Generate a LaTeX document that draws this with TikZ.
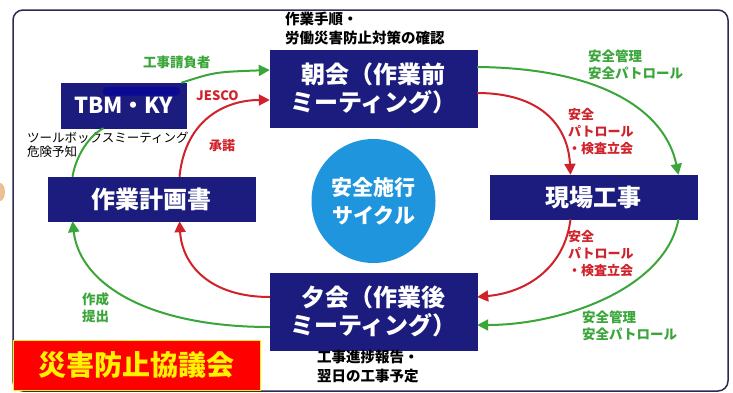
\documentclass[tikz,border=0pt]{standalone}
\usepackage{fontspec}
\setmainfont{Noto Sans CJK JP}
\usetikzlibrary{arrows.meta}
\definecolor{navy}{HTML}{1B1C7E}
\definecolor{navybar}{HTML}{0B0A95}
\definecolor{cblue}{HTML}{1E95DC}
\definecolor{agreen}{HTML}{3AA63A}
\definecolor{ared}{HTML}{D0222A}
\definecolor{frame}{HTML}{2A2A55}
\begin{document}
\begin{tikzpicture}[x=1pt,y=-1pt,
  box/.style={fill=navy,draw=navy,text=white,font=\fontsize{24}{28}\selectfont\bfseries,align=center,inner sep=0pt},
  garr/.style={draw=agreen,line width=2pt,-{Triangle[length=11pt,width=11pt]}},
  rarr/.style={draw=ared,line width=2pt,-{Triangle[length=11pt,width=11pt]}},
  glab/.style={text=agreen,font=\fontsize{13.5}{17}\selectfont\bfseries,align=left,inner sep=0pt,anchor=north west},
  rlab/.style={text=ared,font=\fontsize{13}{17}\selectfont\bfseries,align=left,inner sep=0pt,anchor=north west},
  klab/.style={text=black,font=\fontsize{14.5}{19}\selectfont\bfseries,align=left,inner sep=0pt,anchor=north west}]
\useasboundingbox (0,0) rectangle (733,392);
\fill[white] (0,0) rectangle (733,392);
\fill[brown!60!orange!70,opacity=0.7] (0,192) ellipse (5 and 9);
\draw[frame,line width=1.5pt,rounded corners=10pt] (13,10) rectangle (728,391);
% nodes
\node[box,minimum width=207,minimum height=77] (asa) at (373.5,88.5) {朝会（作業前\\ミーティング）};
\node[box,minimum width=125,minimum height=45,font=\fontsize{22}{25}\selectfont\bfseries] (tbm) at (123.5,105.5) {TBM・KY};
\fill[navybar,rounded corners=3.5pt] (103,87) rectangle (180,95.5);
\node[box,minimum width=207,minimum height=44] (plan) at (151.5,199) {作業計画書};
\node[box,minimum width=207,minimum height=44] (genba) at (593.5,197) {現場工事};
\node[box,minimum width=207,minimum height=77] (yu) at (373.5,311.5) {夕会（作業後\\ミーティング）};
\node[circle,fill=cblue,minimum size=124,inner sep=0pt,text=white,font=\fontsize{21}{28}\selectfont\bfseries,align=center] (cyc) at (373.5,201) {安全施行\\サイクル};
% labels
\node[klab] (l1) at (285,12) {作業手順・\\労働災害防止対策の確認};
\node[glab] (l2) at (143,56) {工事請負者};
\node[rlab] (l3) at (196,90) {JESCO};
\node[rlab] (l4) at (209,139) {承諾};
\node[text=black,font=\fontsize{12.5}{14}\selectfont,align=left,inner sep=0pt,anchor=north west] (l5) at (27,132) {ツールボックスミーティング\\危険予知};
\node[glab] (l6) at (588,50) {安全管理\\安全パトロール};
\node[rlab] (l7) at (568,108) {安全\\パトロール\\・検査立会};
\node[rlab] (l8) at (568,230) {安全\\パトロール\\・検査立会};
\node[glab] (l9) at (582,311) {安全管理\\安全パトロール};
\node[glab] (l10) at (82,293) {作成\\提出};
\node[klab] (l11) at (317,350) {工事進捗報告・\\翌日の工事予定};
\node[fill=red,draw=yellow,line width=0.8pt,minimum width=247,minimum height=50,inner sep=0pt,text=yellow,font=\fontsize{28}{32}\selectfont\bfseries] (kyo) at (136.5,365) {災害防止協議会};
% arrows
\draw[garr] ([xshift=-5pt]tbm.north east) .. controls (215,72) .. ([yshift=18.5pt]asa.west);
\draw[rarr] ([xshift=28pt]plan.north) .. controls (185,120) and (225,100) .. ([yshift=-11.5pt]asa.west);
\draw[agreen,line width=2pt] ([xshift=-79pt]plan.north) .. controls (76,155) and (90,135) .. ([xshift=-20pt]tbm.south);
\draw[garr] ([yshift=21.5pt]asa.east) .. controls (600,68) and (665,110) .. ([xshift=85pt]genba.north);
\draw[rarr] ([yshift=-4.5pt]asa.east) .. controls (540,93) and (568,125) .. ([xshift=-23pt]genba.north);
\draw[rarr] ([xshift=-23pt]genba.south) .. controls (565,265) and (530,292) .. ([yshift=14.5pt]yu.east);
\draw[garr] ([xshift=85pt]genba.south) .. controls (665,290) and (560,325) .. ([yshift=-13.5pt]yu.east);
\draw[rarr] ([yshift=14.5pt]yu.west) .. controls (210,297) and (182,265) .. ([xshift=28pt]plan.south);
\draw[garr] ([yshift=-15.5pt]yu.west) .. controls (150,327) and (80,285) .. ([xshift=-79pt]plan.south);
\end{tikzpicture}
\end{document}
